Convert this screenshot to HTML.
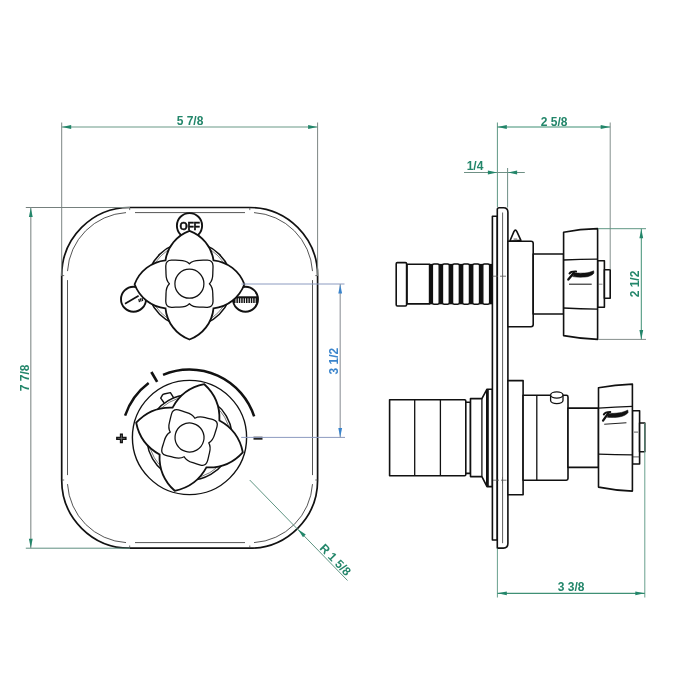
<!DOCTYPE html>
<html><head><meta charset="utf-8"><title>drawing</title>
<style>html,body{margin:0;padding:0;background:#fff;}svg{display:block;will-change:transform;opacity:0.999;}</style></head>
<body>
<svg width="700" height="700" viewBox="0 0 700 700">
<rect width="700" height="700" fill="#fff"/>
<rect x="61.7" y="207.5" width="255.9" height="340.7" rx="68" ry="68" fill="none" stroke="#111" stroke-width="1.7"/>
<path d="M 135.0 212.6 H 245.0 M 135.0 542.6 H 245.0 M 67.5 280.1 V 475.1 M 312.5 280.1 V 475.1" stroke="#2a2a2a" stroke-width="0.8" fill="none"/>
<path d="M 67.5 271.1 A 62.5 62.5 0 0 1 126.0 212.6 M 254.0 212.6 A 62.5 62.5 0 0 1 312.5 271.1 M 312.5 484.1 A 62.5 62.5 0 0 1 254.0 542.6 M 126.0 542.6 A 62.5 62.5 0 0 1 67.5 484.1" stroke="#2a2a2a" stroke-width="0.8" fill="none"/>
<path d="M 129.7 207.6 v2.5 M 249.8 207.6 v2.5 M 129.7 548 v-2.5 M 249.8 548 v-2.5 M 61.7 275.6 h2.5 M 61.7 480 h2.5 M 317.8 275.6 h-2.5 M 317.8 480 h-2.5" stroke="#444" stroke-width="0.8"/>
<circle cx="189.5" cy="225.7" r="12.6" fill="#fff" stroke="#111" stroke-width="1.9"/>
<text x="189.6" y="229.7" font-family="Liberation Sans, sans-serif" font-weight="bold" font-size="10.6" text-anchor="middle" fill="#111" stroke="#111" stroke-width="0.4" letter-spacing="-0.4">OFF</text>
<circle cx="133.5" cy="299.2" r="12.5" fill="#fff" stroke="#111" stroke-width="1.9"/>
<path d="M 125 303.7 L 138.6 295.8" stroke="#111" stroke-width="1.7"/>
<path d="M 139.5 302.2 l-0.7 -3.2 M 141.1 301.6 l-0.7 -3.2 M 142.7 301 l-0.7 -3.2" stroke="#111" stroke-width="1.2"/>
<circle cx="245.5" cy="299.2" r="12.5" fill="#fff" stroke="#111" stroke-width="1.9"/>
<path d="M 234 300.3 H 258" stroke="#111" stroke-width="5.4" stroke-dasharray="1.5 0.9"/>
<path d="M 234 297.3 H 258" stroke="#111" stroke-width="2"/>
<circle cx="189.5" cy="284.3" r="42.3" fill="#fff" stroke="#111" stroke-width="1.5"/>
<circle cx="189.5" cy="284.3" r="40.3" fill="none" stroke="#333" stroke-width="0.6"/>
<g transform="translate(189.5 284.3) rotate(0)"><path d="M -24 -24 A 37 37 0 0 1 0 -53.4 A 37 37 0 0 1 24 -24 A 37 37 0 0 1 54.9 0 A 37 37 0 0 1 24 24 A 37 37 0 0 1 0 55.2 A 37 37 0 0 1 -24 24 A 37 37 0 0 1 -54.9 0 A 37 37 0 0 1 -24 -24 Z" fill="#fff" stroke="#111" stroke-width="1.8" stroke-linejoin="miter"/><g transform="translate(-0.1 -0.6)"><path d="M 0 -20 C 2.50 -22.60 6.00 -23.40 10.00 -23.40 C 13.00 -23.40 15.50 -23.70 18.00 -23.60 C 22.00 -23.50 23.50 -22.00 23.60 -18.00 C 23.70 -15.50 23.40 -13.00 23.40 -10.00 C 23.40 -6.00 22.60 -2.50 20.00 0.00 C 22.60 2.50 23.40 6.00 23.40 10.00 C 23.40 13.00 23.70 15.50 23.60 18.00 C 23.50 22.00 22.00 23.50 18.00 23.60 C 15.50 23.70 13.00 23.40 10.00 23.40 C 6.00 23.40 2.50 22.60 0.00 20.00 C -2.50 22.60 -6.00 23.40 -10.00 23.40 C -13.00 23.40 -15.50 23.70 -18.00 23.60 C -22.00 23.50 -23.50 22.00 -23.60 18.00 C -23.70 15.50 -23.40 13.00 -23.40 10.00 C -23.40 6.00 -22.60 2.50 -20.00 0.00 C -22.60 -2.50 -23.40 -6.00 -23.40 -10.00 C -23.40 -13.00 -23.70 -15.50 -23.60 -18.00 C -23.50 -22.00 -22.00 -23.50 -18.00 -23.60 C -15.50 -23.70 -13.00 -23.40 -10.00 -23.40 C -6.00 -23.40 -2.50 -22.60 -0.00 -20.00 Z" fill="#fff" stroke="#111" stroke-width="1.3" stroke-linejoin="round"/><circle r="14.5" fill="#fff" stroke="#111" stroke-width="1.25"/></g></g>
<circle cx="189.5" cy="437.5" r="57.1" fill="#fff" stroke="#111" stroke-width="1.4"/>
<path d="M 164.2 403 L 160.7 398.2 L 162.4 395.2 Q 162.9 394.2 164 394 L 170.4 392.6 L 173.4 397.3 L 174 400" fill="#fff" stroke="#111" stroke-width="1.4" stroke-linejoin="round"/>
<g transform="translate(189.5 437.5) rotate(15)">
<circle r="42.6" fill="#fff" stroke="#111" stroke-width="1.5"/>
<circle r="40.6" fill="none" stroke="#333" stroke-width="0.6"/>
</g>
<g transform="translate(189.5 437.5) rotate(15.5)"><path d="M -24.3 -24.3 A 46 46 0 0 1 0 -55.3 A 46 46 0 0 1 24.3 -24.3 A 46 46 0 0 1 55.3 0 A 46 46 0 0 1 24.3 24.3 A 46 46 0 0 1 0 55.3 A 46 46 0 0 1 -24.3 24.3 A 46 46 0 0 1 -55.3 0 A 46 46 0 0 1 -24.3 -24.3 Z" fill="#fff" stroke="#111" stroke-width="1.8" stroke-linejoin="miter"/><g transform="translate(0 0)"><path d="M 0 -20 C 2.50 -22.60 6.00 -23.40 10.00 -23.40 C 13.00 -23.40 15.50 -23.70 18.00 -23.60 C 22.00 -23.50 23.50 -22.00 23.60 -18.00 C 23.70 -15.50 23.40 -13.00 23.40 -10.00 C 23.40 -6.00 22.60 -2.50 20.00 0.00 C 22.60 2.50 23.40 6.00 23.40 10.00 C 23.40 13.00 23.70 15.50 23.60 18.00 C 23.50 22.00 22.00 23.50 18.00 23.60 C 15.50 23.70 13.00 23.40 10.00 23.40 C 6.00 23.40 2.50 22.60 0.00 20.00 C -2.50 22.60 -6.00 23.40 -10.00 23.40 C -13.00 23.40 -15.50 23.70 -18.00 23.60 C -22.00 23.50 -23.50 22.00 -23.60 18.00 C -23.70 15.50 -23.40 13.00 -23.40 10.00 C -23.40 6.00 -22.60 2.50 -20.00 0.00 C -22.60 -2.50 -23.40 -6.00 -23.40 -10.00 C -23.40 -13.00 -23.70 -15.50 -23.60 -18.00 C -23.50 -22.00 -22.00 -23.50 -18.00 -23.60 C -15.50 -23.70 -13.00 -23.40 -10.00 -23.40 C -6.00 -23.40 -2.50 -22.60 -0.00 -20.00 Z" fill="#fff" stroke="#111" stroke-width="1.3" stroke-linejoin="round"/><circle r="14.5" fill="#fff" stroke="#111" stroke-width="1.25"/></g></g>
<path d="M 125.09 415.70 A 68 68 0 0 1 148.67 383.12" fill="none" stroke="#111" stroke-width="2.5"/>
<path d="M 163.04 374.86 A 68 68 0 0 1 254.14 416.37" fill="none" stroke="#111" stroke-width="2.5"/>
<path d="M 157.16 381.93 L 151.37 371.99" stroke="#111" stroke-width="2.7"/>
<path d="M 116.1 438.4 h10.5 M 121.4 433.4 v9.8" stroke="#111" stroke-width="3.1"/>
<path d="M 117.6 438.4 h7.5 M 121.4 434.9 v6.8" stroke="#777" stroke-width="0.7"/>
<path d="M 253.5 438.2 h9" stroke="#222" stroke-width="3"/>
<path d="M 61.7 122.5 V 276 M 317.6 122.5 V 276" stroke="#7d8684" stroke-width="1" fill="none"/>
<path d="M 61.7 127 H 317.6" stroke="#6a9a88" stroke-width="1.1" fill="none"/>
<polygon points="61.90,127.00 71.20,125.10 71.20,128.90" fill="#23866a"/>
<polygon points="317.40,127.00 308.10,128.90 308.10,125.10" fill="#23866a"/>
<text x="190" y="125.2" font-family="Liberation Sans, sans-serif" font-weight="bold" font-size="12" text-anchor="middle" fill="#23866a">5 7/8</text>
<path d="M 25.8 207.5 H 130" stroke="#75807d" stroke-width="1" fill="none"/>
<path d="M 25.8 548.2 H 130" stroke="#5f8f80" stroke-width="1" fill="none"/>
<path d="M 30.8 207.5 V 548.2" stroke="#8c9593" stroke-width="1.2" fill="none"/>
<polygon points="30.80,207.70 32.70,217.00 28.90,217.00" fill="#23866a"/>
<polygon points="30.80,548.00 28.90,538.70 32.70,538.70" fill="#23866a"/>
<text transform="translate(28.9 377.9) rotate(-90)" font-family="Liberation Sans, sans-serif" font-weight="bold" font-size="12" text-anchor="middle" fill="#23866a">7 7/8</text>
<path d="M 241.5 284 H 344.5 M 241.2 437.4 H 345" stroke="#8c9bc0" stroke-width="1" fill="none"/>
<path d="M 340.2 284 V 437.4" stroke="#9a9da3" stroke-width="1.2" fill="none"/>
<polygon points="340.20,284.20 342.10,293.50 338.30,293.50" fill="#3a84cc"/>
<polygon points="340.20,437.20 338.30,427.90 342.10,427.90" fill="#3a84cc"/>
<text transform="translate(338.3 361.1) rotate(-90)" font-family="Liberation Sans, sans-serif" font-weight="bold" font-size="12" text-anchor="middle" fill="#3a84cc">3 1/2</text>
<path d="M 249.7 480 L 347.5 580.5" stroke="#5f9583" stroke-width="1" fill="none"/>
<polygon points="297.90,529.20 305.75,534.54 303.02,537.19" fill="#23866a"/>
<text transform="translate(319 548.7) rotate(45.8)" font-family="Liberation Sans, sans-serif" font-weight="bold" font-size="12" fill="#23866a">R 1 5/8</text>
<rect x="429.4" y="263.9" width="63" height="40.4" fill="#111"/>
<rect x="407" y="264.3" width="22.6" height="39.6" fill="#fff" stroke="#111" stroke-width="1.6" stroke-linejoin="round"/>
<rect x="396.2" y="262.6" width="10.4" height="43.4" rx="1.2" fill="#fff" stroke="#111" stroke-width="1.6" stroke-linejoin="round"/>
<rect x="432.40" y="264" width="6.8" height="40.2" rx="1.6" fill="#fff" stroke="#111" stroke-width="1.4"/>
<rect x="442.48" y="264" width="6.8" height="40.2" rx="1.6" fill="#fff" stroke="#111" stroke-width="1.4"/>
<rect x="452.56" y="264" width="6.8" height="40.2" rx="1.6" fill="#fff" stroke="#111" stroke-width="1.4"/>
<rect x="462.64" y="264" width="6.8" height="40.2" rx="1.6" fill="#fff" stroke="#111" stroke-width="1.4"/>
<rect x="472.72" y="264" width="6.8" height="40.2" rx="1.6" fill="#fff" stroke="#111" stroke-width="1.4"/>
<rect x="482.80" y="264" width="6.8" height="40.2" rx="1.6" fill="#fff" stroke="#111" stroke-width="1.4"/>
<path d="M 389.6 399.8 H 464.6 Q 465.8 399.8 465.8 401 V 474.6 Q 465.8 475.8 464.6 475.8 H 389.6 Z" fill="#fff" stroke="#111" stroke-width="1.6" stroke-linejoin="round"/>
<path d="M 414.7 399.8 V 475.8 M 440.4 399.8 V 475.8" stroke="#111" stroke-width="1.3"/>
<rect x="465.8" y="402.2" width="4.7" height="71.2" fill="#fff" stroke="#111" stroke-width="1.6" stroke-linejoin="round"/>
<path d="M 470.5 398.6 H 481.9 L 487 389.2 H 492.4 V 486.6 H 487 L 481.9 476.6 H 470.5 Z" fill="#fff" stroke="#111" stroke-width="1.6" stroke-linejoin="round"/>
<path d="M 481.9 398.6 V 476.6" stroke="#111" stroke-width="1.3" fill="none"/>
<path d="M 487.4 389.6 V 486.2" stroke="#111" stroke-width="2.8" fill="none"/>
<path d="M 492.4 216.2 H 497.3 V 540 H 492.4 Z" fill="#fff" stroke="#111" stroke-width="1.6" stroke-linejoin="round"/>
<path d="M 497.3 209.5 Q 497.3 207.7 499.1 207.7 H 503.4 Q 507.9 207.7 507.9 212.2 V 543.6 Q 507.9 548.1 503.4 548.1 H 497.3 Z" fill="#fff" stroke="#111" stroke-width="1.6" stroke-linejoin="round"/>
<path d="M 502.6 212.5 V 543.2" stroke="#333" stroke-width="0.8"/>
<path d="M 492.5 276.2 H 498 M 500 276.2 H 506" stroke="#555" stroke-width="0.8"/>
<path d="M 493 480.2 H 499 M 501 480.2 H 506.5 M 502.5 477 V 483.5" stroke="#555" stroke-width="0.8"/>
<path d="M 509.8 241.3 L 513.9 231.6 Q 515.4 228.6 516.9 231.6 L 520.9 240.3 Z" fill="#fff" stroke="#111" stroke-width="1.6" stroke-linejoin="round"/>
<rect x="513.6" y="238.3" width="3.6" height="2" fill="#999"/>
<path d="M 507.9 241.3 H 531 Q 533.2 241.3 533.2 243.5 V 324.6 Q 533.2 326.8 531 326.8 H 507.9 Z" fill="#fff" stroke="#111" stroke-width="1.6" stroke-linejoin="round"/>
<rect x="533.2" y="254" width="30.4" height="60" fill="#fff" stroke="#111" stroke-width="1.6" stroke-linejoin="round"/>
<rect x="597.6" y="260.8" width="6.8" height="46.4" fill="#fff" stroke="#111" stroke-width="1.6" stroke-linejoin="round" />
<rect x="604.4" y="269.7" width="5.8" height="28.6" fill="#fff" stroke="#111" stroke-width="1.6" stroke-linejoin="round" />
<path d="M 598.6 284.2 H 602.5" stroke="#555" stroke-width="0.7"/>
<path d="M 563.6 232.2 Q 580 229 597.6 228.6 V 339.4 Q 580 338.6 563.6 335.6 Z" fill="#fff" stroke="#111" stroke-width="1.6" stroke-linejoin="round"/>
<path d="M 563.6 260 Q 580 259.2 597.6 259.2 M 563.6 308 Q 580 308.8 597.6 309.1" fill="none" stroke="#111" stroke-width="1.3"/>
<g transform="translate(567.9 280.2) rotate(0)" fill="none" stroke="#111" stroke-linecap="round" stroke-linejoin="round"><path d="M 0.4 -0.6 L 5.8 -7.2" stroke-width="2.3"/><path d="M 1.6 -6.7 Q 3 -8.8 8.2 -8.6" stroke-width="2"/><path d="M 6.2 -7.4 C 9 -7 14 -7 17 -7.2 C 20 -7.4 23 -8.2 25.8 -9.4 L 26 -7 C 24.5 -5 21 -3.4 17 -3.1 C 13 -2.8 9 -2.9 5 -3.6 Z" fill="#111" stroke-width="0.5"/></g>
<path d="M 569 284.2 H 591.7" stroke="#222" stroke-width="1.1"/>
<rect x="507.9" y="380.6" width="15.2" height="114.2" fill="#fff" stroke="#111" stroke-width="1.6" stroke-linejoin="round"/>
<path d="M 523.1 395.3 H 566.4 Q 568 395.3 568 396.9 V 478.6 Q 568 480.2 566.4 480.2 H 523.1 Z" fill="#fff" stroke="#111" stroke-width="1.6" stroke-linejoin="round"/>
<path d="M 536.8 395.3 V 480.2" stroke="#111" stroke-width="1.3"/>
<path d="M 550.6 395 V 400.6 A 6.2 3.1 0 0 0 563 400.6 V 395" fill="#fff" stroke="#111" stroke-width="1.3"/>
<ellipse cx="556.8" cy="395" rx="6.2" ry="3.1" fill="#fff" stroke="#111" stroke-width="1.3"/>
<rect x="568" y="408.1" width="30.5" height="59.3" fill="#fff" stroke="#111" stroke-width="1.6" stroke-linejoin="round"/>
<rect x="632.4" y="410.7" width="7.2" height="53.3" fill="#fff" stroke="#111" stroke-width="1.6" stroke-linejoin="round"/>
<path d="M 633 456.9 H 639.6 M 634 432.1 H 638" stroke="#333" stroke-width="0.8"/>
<rect x="639.6" y="423" width="5.2" height="28.8" fill="#fff" stroke="#111" stroke-width="1.6" stroke-linejoin="round"/>
<path d="M 598.5 387.8 Q 615 384.6 632.4 384.1 V 491.1 Q 615 490.4 598.5 487.1 Z" fill="#fff" stroke="#111" stroke-width="1.6" stroke-linejoin="round"/>
<path d="M 598.5 408.1 Q 615 407 632.4 406.4 M 598.5 454.2 Q 615 454.7 632.4 454.9" fill="none" stroke="#111" stroke-width="1.3"/>
<g transform="translate(602.7 421.2) rotate(-4)" fill="none" stroke="#111" stroke-linecap="round" stroke-linejoin="round"><path d="M 0.4 -0.6 L 5.8 -7.2" stroke-width="2.3"/><path d="M 1.6 -6.7 Q 3 -8.8 8.2 -8.6" stroke-width="2"/><path d="M 6.2 -7.4 C 9 -7 14 -7 17 -7.2 C 20 -7.4 23 -8.2 25.8 -9.4 L 26 -7 C 24.5 -5 21 -3.4 17 -3.1 C 13 -2.8 9 -2.9 5 -3.6 Z" fill="#111" stroke-width="0.5"/></g>
<path d="M 604.2 424.2 L 626.4 422.8" stroke="#222" stroke-width="1.1"/>
<path d="M 497.4 122.5 V 207" stroke="#5f9784" stroke-width="1" fill="none"/>
<path d="M 610.2 122.5 V 269.5" stroke="#85908d" stroke-width="1" fill="none"/>
<path d="M 497.4 127 H 610.2" stroke="#3f9075" stroke-width="1.2" fill="none"/>
<polygon points="497.50,127.00 506.80,125.10 506.80,128.90" fill="#23866a"/>
<polygon points="610.00,127.00 600.70,128.90 600.70,125.10" fill="#23866a"/>
<text x="554.1" y="125.8" font-family="Liberation Sans, sans-serif" font-weight="bold" font-size="12" text-anchor="middle" fill="#23866a">2 5/8</text>
<path d="M 464 172.5 H 524.8" stroke="#6f9085" stroke-width="1.1" fill="none"/>
<path d="M 507.6 168 V 207.5" stroke="#6f8f86" stroke-width="1" fill="none"/>
<polygon points="497.20,172.50 487.90,174.40 487.90,170.60" fill="#23866a"/>
<polygon points="507.80,172.50 517.10,170.60 517.10,174.40" fill="#23866a"/>
<text x="475" y="170" font-family="Liberation Sans, sans-serif" font-weight="bold" font-size="12" text-anchor="middle" fill="#23866a">1/4</text>
<path d="M 598 228.7 H 646" stroke="#5f9783" stroke-width="1" fill="none"/>
<path d="M 598 339.4 H 646" stroke="#868e8c" stroke-width="1" fill="none"/>
<path d="M 641.3 228.7 V 339.4" stroke="#3f9075" stroke-width="1" fill="none"/>
<polygon points="641.30,228.90 643.20,238.20 639.40,238.20" fill="#23866a"/>
<polygon points="641.30,339.20 639.40,329.90 643.20,329.90" fill="#23866a"/>
<text transform="translate(639 284) rotate(-90)" font-family="Liberation Sans, sans-serif" font-weight="bold" font-size="12" text-anchor="middle" fill="#23866a">2 1/2</text>
<path d="M 497.4 548.5 V 597.5 M 644.8 423 V 597.5" stroke="#68a08d" stroke-width="1" fill="none"/>
<path d="M 497.4 593.3 H 644.8" stroke="#3f9075" stroke-width="1.2" fill="none"/>
<polygon points="497.50,593.30 506.80,591.40 506.80,595.20" fill="#23866a"/>
<polygon points="644.60,593.30 635.30,595.20 635.30,591.40" fill="#23866a"/>
<text x="571.2" y="590.8" font-family="Liberation Sans, sans-serif" font-weight="bold" font-size="12" text-anchor="middle" fill="#23866a">3 3/8</text>
</svg>
</body></html>
